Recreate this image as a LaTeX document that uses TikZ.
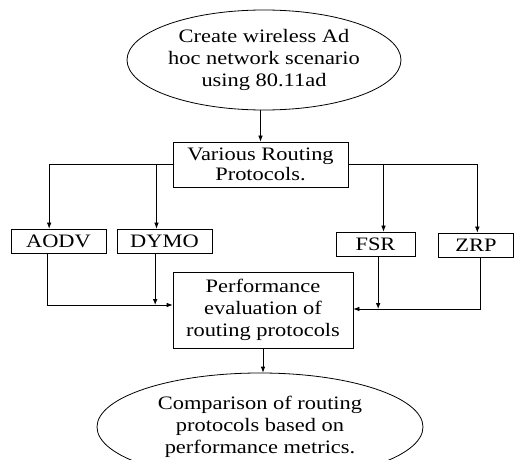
\documentclass[tikz,border=0pt]{standalone}
\usepackage{fontspec}
\setmainfont{Liberation Serif}[FakeStretch=1.18]
\usepackage{tikz}
\usetikzlibrary{arrows.meta,shapes.geometric}

\begin{document}
\begin{tikzpicture}[x=0.75pt, y=-0.75pt,
        line width=0.6pt,
        >={Latex[length=4.5pt,width=3.5pt]},
        every node/.style={font=\fontsize{14.25}{16.5}\selectfont, align=center, inner sep=0pt},
        ell/.style={draw, ellipse},
        box/.style={draw, rectangle}]
        \useasboundingbox (0,0) rectangle (515,460);

        \node (scen) at (264, 60) [ell, minimum width=205.5pt, minimum height=75pt] {Create wireless Ad\\hoc network scenario\\using 80.11ad};
        \node (various) at (260.5, 164.5) [box, minimum width=131.25pt, minimum height=33.75pt, font=\fontsize{14.25}{15}\selectfont] {Various Routing\\Protocols.};
        \node (aodv) at ( 58.5, 241) [box, minimum width=71.25pt, minimum height=18pt] {AODV};
        \node (dymo) at (164.5, 241) [box, minimum width=71.25pt, minimum height=18pt] {DYMO};
        \node (fsr)  at (375.5, 244) [box, minimum width=59.25pt, minimum height=18pt] {FSR};
        \node (zrp)  at (476, 245) [box, minimum width=56.25pt, minimum height=18pt] {ZRP};
        \node (perf) at (263, 310) [box, minimum width=135pt, minimum height=57pt] {Performance\\evaluation of\\routing protocols};
        \node (comp) at (260, 427) [ell, minimum width=244.5pt, minimum height=81pt] {Comparison of routing\\protocols based on\\performance metrics.};

        \coordinate (lj) at ([yshift=3.75pt]perf.west);
        \coordinate (rj) at ([yshift=0.75pt]perf.east);

        \draw[->] (various.north |- scen.south) -- (various.north);
        \draw[->] (various.west) -| ([xshift=-7pt]aodv.north);
        \draw[->] (various.west) -| ([xshift=-6pt]dymo.north);
        \draw[->] (various.east) -| ([xshift=6pt]fsr.north);
        \draw[->] (various.east) -| ([xshift=1pt]zrp.north);

        \draw[->] ([xshift=-8pt]aodv.south) |- (lj);
        \draw[->] ([xshift=-7pt]dymo.south) -- ([xshift=-7pt]dymo.south |- lj);
        \draw[->] ([xshift=2pt]fsr.south) -- ([xshift=2pt]fsr.south |- rj);
        \draw[->] ([xshift=3.5pt]zrp.south) |- (rj);

        \draw[->] (perf.south) -- (perf.south |- comp.north);
    \end{tikzpicture}
\end{document}
